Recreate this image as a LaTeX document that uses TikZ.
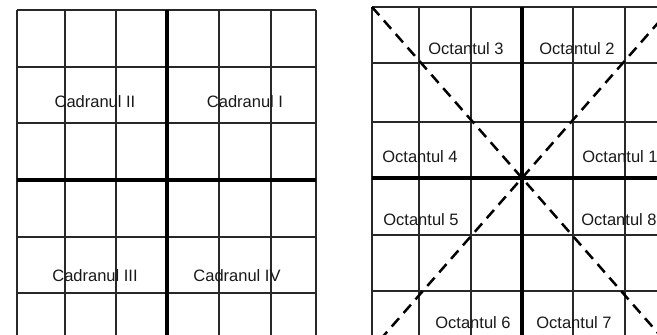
\documentclass[tikz,border=0pt]{standalone}
\usepackage{fontspec}
\setmainfont{Liberation Sans}
\usetikzlibrary{positioning}
\definecolor{gridgray}{RGB}{40,40,40}
\definecolor{labelgray}{RGB}{25,25,25}
\tikzset{
  thin grid/.style={draw=gridgray, line width=1.5pt},
  thick grid/.style={draw=black, line width=3.2pt},
  diag/.style={draw=black, line width=2.5pt, dash pattern=on 11pt off 7pt},
  lbl/.style={text=labelgray, inner sep=0pt, font=\fontsize{16.5}{18}\selectfont}
}

\begin{document}
\begin{tikzpicture}[x=1pt, y=-1pt]
        \useasboundingbox (0,0) rectangle (657,335);
        \clip (0,0) rectangle (657,335);
        % left grid (quadrants)
        \foreach \x in {17,65,116,219,271,316}{\draw[thin grid] (\x,10) -- (\x,340);}
        \foreach \y in {10,67,123,237,293}{\draw[thin grid] (17,\y) -- (316,\y);}
        \draw[thick grid] (167,10) -- (167,340);
        \draw[thick grid] (17,180) -- (316,180);
        \node[lbl] (c2) at (95,102) {Cadranul II};
        \node[lbl] (c1) at (245,102) {Cadranul I};
        \node[lbl] (c3) at (95,276) {Cadranul III};
        \node[lbl] (c4) at (237,276) {Cadranul IV};
        % right grid (octants)
        \foreach \x in {372,419,471,573,625}{\draw[thin grid] (\x,7) -- (\x,340);}
        \foreach \y in {7,63,122,235,291}{\draw[thin grid] (372,\y) -- (680,\y);}
        \draw[thick grid] (522,7) -- (522,340);
        \draw[thick grid] (372,178) -- (680,178);
        \coordinate (mid) at (522,178);
        \coordinate (tl) at (372,7);
        \coordinate (tr) at (672,7);
        \coordinate (bl) at (372,349);
        \coordinate (br) at (672,349);
        \draw[diag] (tl) -- (mid) -- (br);
        \draw[diag] (tr) -- (mid) -- (bl);
        \node[lbl] (o3) at (466,49) {Octantul 3};
        \node[lbl] (o2) at (577,49) {Octantul 2};
        \node[lbl] (o4) at (420,157) {Octantul 4};
        \node[lbl] (o1) at (620,157) {Octantul 1};
        \node[lbl] (o5) at (421,220) {Octantul 5};
        \node[lbl] (o8) at (619,220) {Octantul 8};
        \node[lbl] (o6) at (473,323) {Octantul 6};
        \node[lbl] (o7) at (574,323) {Octantul 7};
      \end{tikzpicture}
\end{document}
